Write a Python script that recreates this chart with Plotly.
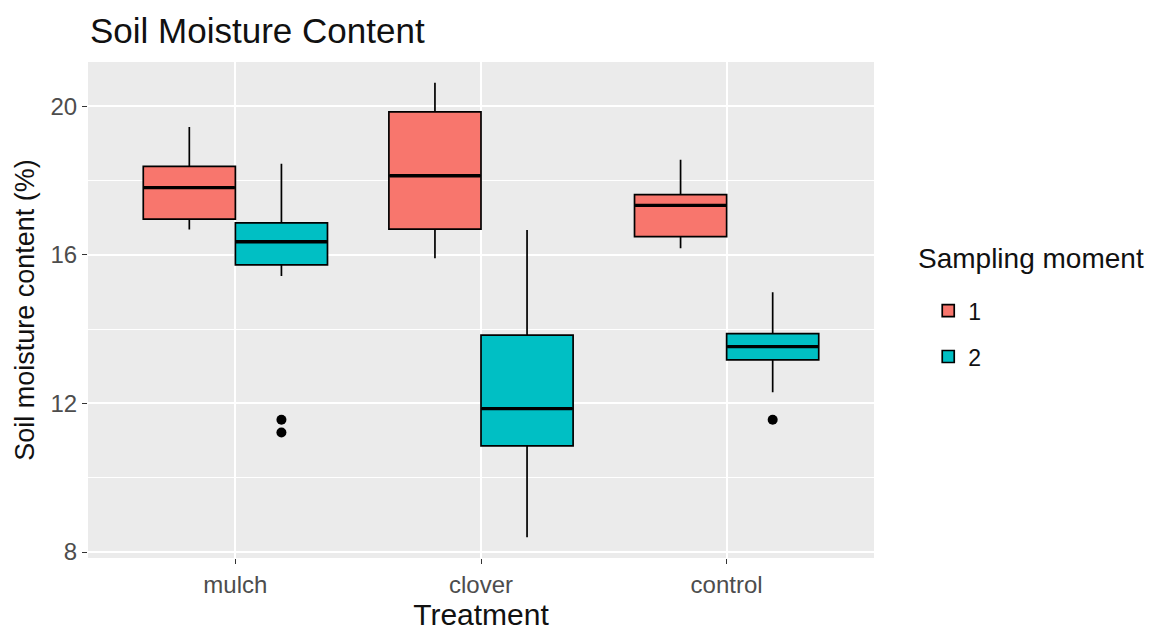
import plotly.graph_objects as go

treatments = ["mulch", "clover", "control"]
moments = ["1", "2"]

# precomputed box statistics per sampling moment (order: mulch, clover, control)
lower_1 = [16.68, 15.91, 16.18]
q1_1 = [16.96, 16.69, 16.49]
med_1 = [17.81, 18.13, 17.33]
q3_1 = [18.38, 19.85, 17.62]
upper_1 = [19.44, 20.63, 18.56]

lower_2 = [15.43, 8.40, 12.30]
q1_2 = [15.73, 10.86, 13.17]
med_2 = [16.35, 11.86, 13.53]
q3_2 = [16.86, 13.84, 13.88]
upper_2 = [18.45, 16.67, 14.99]

outlier_x_2 = ["mulch", "mulch", "control"]
outlier_y_2 = [11.56, 11.22, 11.56]

colors = {"1": "#F8766D", "2": "#00BFC4"}
stats = {
    "1": (lower_1, q1_1, med_1, q3_1, upper_1),
    "2": (lower_2, q1_2, med_2, q3_2, upper_2),
}

FONT = "Liberation Sans, Arial, sans-serif"

fig = go.Figure()
for m in moments:
    lo, q1, md, q3, up = stats[m]
    fig.add_trace(go.Box(
        x=treatments, q1=q1, median=md, q3=q3, lowerfence=lo, upperfence=up,
        name=m, legendgroup=m, offsetgroup=m,
        fillcolor=colors[m], line=dict(color="black", width=1.7),
        whiskerwidth=0, boxpoints=False, hoverinfo="y",
    ))

# thicker median bars (ggplot style), dodged like the boxes
for m in moments:
    md = stats[m][2]
    fig.add_trace(go.Scatter(
        x=treatments, y=md, mode="markers", offsetgroup=m, showlegend=False,
        hoverinfo="skip",
        marker=dict(symbol="line-ew", size=65, color="black",
                    line=dict(color="black", width=3.4)),
    ))

# outlier points
fig.add_trace(go.Scatter(x=outlier_x_2, y=outlier_y_2, mode="markers", offsetgroup="2",
                         showlegend=False, marker=dict(color="black", size=10)))

fig.update_layout(
    width=1161, height=632,
    margin=dict(l=88, r=287, t=62, b=74),
    paper_bgcolor="white", plot_bgcolor="#EBEBEB",
    boxmode="group", boxgap=0.25, boxgroupgap=0,
    scattermode="group", scattergap=0.25,
    font=dict(family=FONT, color="black"),
    title=dict(text="Soil Moisture Content", x=90/1161, xanchor="left",
               y=1 - 31/632, yanchor="middle", font=dict(size=35, color="#111111")),
    legend=dict(font=dict(size=23, color="#111111"), x=1.069, xanchor="left",
                y=0.542, yanchor="top", tracegroupgap=13, bgcolor="white"),
    annotations=[dict(text="Sampling moment", xref="paper", yref="paper",
                      x=1 + 42/786, xanchor="left", y=(558 - 258)/496, yanchor="middle",
                      showarrow=False, font=dict(size=28, color="#111111"))],
)
fig.update_xaxes(
    type="category", categoryorder="array", categoryarray=treatments,
    range=[-0.6, 2.6],
    showgrid=True, gridcolor="white", gridwidth=1.5,
    ticks="outside", ticklen=5, tickcolor="#333333",
    tickfont=dict(size=24, color="#4D4D4D"),
    title=dict(text="Treatment", font=dict(size=30, color="#111111"), standoff=2),
    zeroline=False, showline=False, automargin=False,
)
fig.update_yaxes(
    range=[7.84, 21.19], tick0=8, dtick=4,
    showgrid=True, gridcolor="white", gridwidth=1.5,
    minor=dict(tick0=10, dtick=4, showgrid=True, gridcolor="white", gridwidth=0.7, ticks=""),
    ticks="outside", ticklen=5, tickcolor="#333333",
    tickfont=dict(size=24, color="#4D4D4D"),
    title=dict(text="Soil moisture content (%)", font=dict(size=27, color="#111111"), standoff=8),
    zeroline=False, showline=False, automargin=False,
)

fig.write_html("out.html", config={"displayModeBar": False},
               post_script="document.body.style.margin='0';")
